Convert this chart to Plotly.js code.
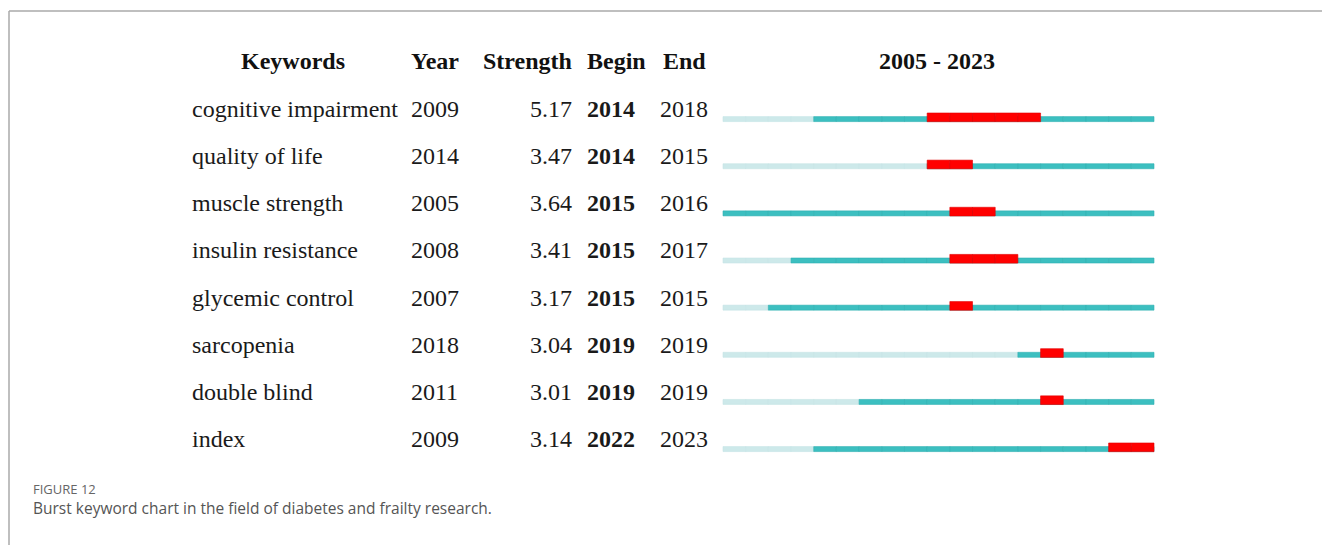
<!DOCTYPE html>
<html>
<head>
<meta charset="utf-8">
<script src="https://cdn.plot.ly/plotly-3.0.1.min.js"></script>
<style>html,body{margin:0;padding:0;background:#fff;}#chart{width:1322px;height:545px;}</style>
</head>
<body>
<div id="chart"></div>
<script>
// ---- data ----
const keywords = ["cognitive impairment","quality of life","muscle strength","insulin resistance","glycemic control","sarcopenia","double blind","index"];
const years = [2009,2014,2005,2008,2007,2018,2011,2009];
const strengths = [5.17,3.47,3.64,3.41,3.17,3.04,3.01,3.14];
const begins = [2014,2014,2015,2015,2015,2019,2019,2022];
const ends = [2018,2015,2016,2017,2015,2019,2019,2023];
const firstYear = 2005, lastYear = 2023;
const headers = ["Keywords","Year","Strength","Begin","End"];
const rangeLabel = firstYear + " - " + lastYear;

// ---- build segment traces ----
const W = 1322, H = 545;
const px = x => x / W;
const py = y => 1 - y / H;
const light = {y:[],base:[],x:[]}, teal = {y:[],base:[],x:[]}, red = {y:[],base:[],x:[]};
keywords.forEach((k,i)=>{
  for (let yr = firstYear; yr <= lastYear; yr++) {
    const tgt = yr < years[i] ? light : teal;
    tgt.y.push(i); tgt.base.push(yr); tgt.x.push(1);
    if (yr >= begins[i] && yr <= ends[i]) { red.y.push(i); red.base.push(yr); red.x.push(1); }
  }
});
const rowPx = 47.14;
function barTrace(d, color, lineColor, offPx0, offPx1) {
  return {type:'bar', orientation:'h', y:d.y, x:d.x, base:d.base,
    width: (offPx1-offPx0)/rowPx, offset: offPx0/rowPx,
    marker:{color:color, line:{color:lineColor, width:0.6}}, hoverinfo:'skip', showlegend:false};
}
const traces = [
  barTrace(light, '#cde9ea', '#c6e4e5', -2.4, 2.6),
  barTrace(teal, '#3cbfc0', '#2fb0b1', -2.4, 2.6),
  barTrace(red, '#ff0000', '#e00000', -6, 2.7)
];

// ---- annotations (table text) ----
const serif = "Liberation Serif, Times New Roman, serif";
const fs = 24;
const ann = [];
const hdrY = py(61);
function hdr(x, t, anchor) {
  ann.push({xref:'paper',yref:'paper',x:px(x),y:hdrY,text:'<b>'+t+'</b>',xanchor:anchor,yanchor:'middle',showarrow:false,font:{family:serif,size:fs,color:'#111'}});
}
hdr(293, headers[0], 'center');
hdr(409, headers[1], 'left');
hdr(574, headers[2], 'right');
hdr(585, headers[3], 'left');
hdr(661, headers[4], 'left');
hdr(937, rangeLabel, 'center');
keywords.forEach((k,i)=>{
  const base = {yref:'y',y:i,yshift:10,yanchor:'middle',showarrow:false,font:{family:serif,size:fs,color:'#1a1a1a'}};
  ann.push(Object.assign({},base,{xref:'paper',x:px(190),text:k,xanchor:'left'}));
  ann.push(Object.assign({},base,{xref:'paper',x:px(409),text:String(years[i]),xanchor:'left'}));
  ann.push(Object.assign({},base,{xref:'paper',x:px(574),text:strengths[i].toFixed(2),xanchor:'right'}));
  ann.push(Object.assign({},base,{xref:'paper',x:px(585),text:'<b>'+begins[i]+'</b>',xanchor:'left'}));
  ann.push(Object.assign({},base,{xref:'paper',x:px(658),text:String(ends[i]),xanchor:'left'}));
});
const sans = "Open Sans, Noto Sans, sans-serif";
ann.push({xref:'paper',yref:'paper',x:px(31),y:py(489),text:'FIGURE 12',xanchor:'left',yanchor:'middle',showarrow:false,font:{family:sans,size:13,color:'#666'}});
ann.push({xref:'paper',yref:'paper',x:px(31),y:py(508),text:'Burst keyword chart in the field of diabetes and frailty research.',xanchor:'left',yanchor:'middle',showarrow:false,font:{family:sans,size:15.5,color:'#555'}});

// axis ranges mapping: 2005 -> 723px, 2024 -> 1154px; row 0 line center -> 119px
const pxPerYear = (1154-723)/(lastYear+1-firstYear);
const x0 = firstYear - 723/pxPerYear, x1 = firstYear + (W-723)/pxPerYear;
const y0 = -119/rowPx, y1 = (H-119)/rowPx;

const layout = {
  width:W, height:H, margin:{l:0,r:0,t:0,b:0}, paper_bgcolor:'#fff', plot_bgcolor:'#fff',
  barmode:'overlay', bargap:0,
  xaxis:{range:[x0,x1], visible:false, fixedrange:true},
  yaxis:{range:[y1,y0], visible:false, fixedrange:true},
  annotations:ann,
  shapes:[
    {type:'line',xref:'paper',yref:'paper',x0:px(9),x1:1,y0:py(11),y1:py(11),line:{color:'#aaaaaa',width:1.5}},
    {type:'line',xref:'paper',yref:'paper',x0:px(9),x1:px(9),y0:py(11),y1:0,line:{color:'#aaaaaa',width:1.5}}
  ]
};
Plotly.newPlot('chart', traces, layout, {staticPlot:true, displayModeBar:false});
</script>
</body>
</html>
